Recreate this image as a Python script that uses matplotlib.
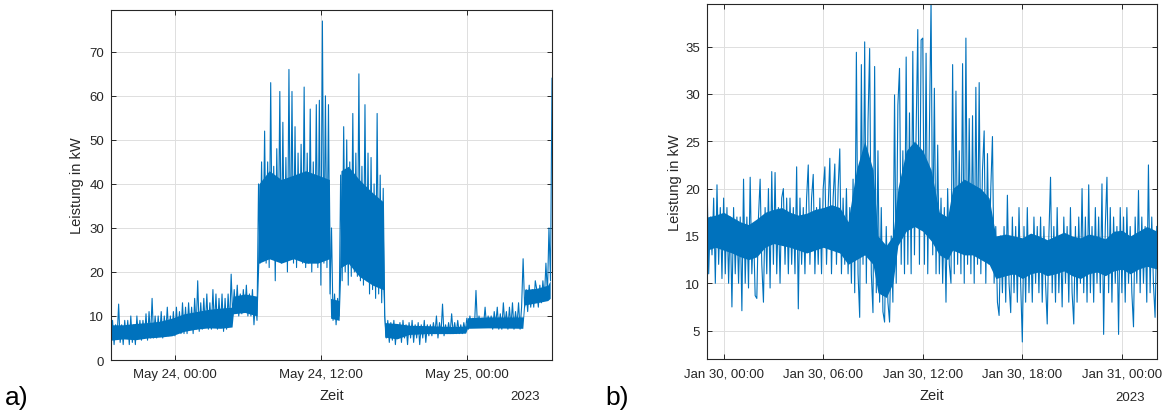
import numpy as np
import matplotlib
matplotlib.use("Agg")
import matplotlib.pyplot as plt
import matplotlib.dates as mdates

plt.rcParams['font.family'] = ['Liberation Sans', 'DejaVu Sans']

# a) May 2023, one reading every 7.5 min from 23.05. 18:45
start_a = np.datetime64('2023-05-23T18:45')
step_a = np.timedelta64(450, 's')
load_a = [
    4, 9, 3.5, 8, 5, 12.7, 4, 8, 3.5, 9,
    5, 9, 3.5, 10, 4, 8, 3.5, 10, 5, 9,
    4.5, 9, 5, 10.5, 4.5, 11, 5, 14, 5, 10,
    5, 10, 5.5, 11, 5, 10, 6, 12, 5.5, 10,
    6, 11, 5.5, 12, 6.5, 11, 6, 13, 6, 12,
    6, 13, 7, 12, 6, 14, 7, 18, 6.5, 13,
    7, 14, 7.5, 15, 7, 13, 7, 16, 7.5, 15,
    7, 14, 7.5, 15, 6.5, 14, 7, 15, 8, 19.5,
    10, 16, 11, 17, 10, 15, 10.5, 16, 11, 17,
    10, 15, 10, 16, 8, 14, 9, 40, 22, 45,
    24, 52, 22, 45, 21, 63, 23, 44, 18, 48,
    25, 61, 22, 54, 23, 46, 20, 66, 24, 61,
    22, 53, 21, 47, 24, 49, 22, 62, 21, 47,
    22, 57, 20, 45, 23, 58, 21, 59, 17, 77,
    22, 60, 21, 58, 15, 30, 9, 15, 8, 14,
    10, 42, 18, 53, 20, 50, 17, 45, 19, 56,
    20, 47, 19, 65, 18, 44, 17, 58, 18, 47,
    15, 46, 16, 40, 14, 56, 15, 42, 13, 39,
    10, 5, 9, 4, 8.5, 4.5, 9, 3.5, 8, 5,
    8.5, 4, 9, 5, 8, 3.5, 8.5, 5, 9, 4,
    8, 5, 8.5, 3.5, 8, 5, 9, 4, 8, 5.5,
    8, 5.5, 8.5, 6, 10, 5, 8.5, 6, 12.7, 5.5,
    8, 6, 8.5, 6, 10.5, 6, 8.5, 6, 9, 6,
    8, 6, 8.5, 6.5, 9.5, 7, 10, 7.5, 9.5, 7.5,
    15.8, 7.5, 10, 7.5, 9.5, 8, 12, 7.5, 10, 8,
    10, 7, 11, 8, 12, 7, 10.5, 7, 13, 8,
    11, 7, 12, 7.5, 13, 7, 11, 8, 13, 7,
    12, 23, 12, 16, 11, 17, 12, 16, 12, 18,
    16, 12, 17, 13, 18, 14, 22, 15, 30, 18,
    64,
]
# densest (solid) part of the band: hours after start, lower and upper edge
core_h_a = [0, 1, 2, 3, 4, 5, 6, 7, 8, 9, 9.95, 10.05, 11, 12.0, 12.15, 13,
            14, 15, 16, 17, 17.95, 18.05, 18.75, 18.9, 19.5, 20.4, 21.5,
            22.35, 22.5, 23.5, 24.5, 26, 28, 29.15, 29.3, 31, 33.85, 34.0,
            35, 35.9, 36.1]
core_lo_a = [4.5, 4.8, 4.6, 5, 5.2, 5.5, 6.5, 7, 7.3, 7.2, 7.5, 10.5, 10.8,
             10, 22, 23, 22, 23, 22, 22, 23, 9.5, 9, 21, 22, 19, 17, 16, 5.2,
             4.8, 5.8, 6, 6, 6.1, 7.2, 7.3, 7.2, 12.5, 13, 13.5, 14]
core_hi_a = [8, 8, 8.3, 8.5, 8.8, 9.5, 10.5, 11, 11.5, 11.8, 12, 14.5, 15,
             14.5, 40, 43, 41, 42, 43, 42, 41, 14, 13.5, 43, 44, 41, 38, 36,
             8.5, 8.3, 7.9, 7.8, 7.6, 7.7, 9.6, 9.8, 9.8, 16, 16.3, 17, 18]
ticks_a = ['2023-05-24T00:00', '2023-05-24T12:00', '2023-05-25T00:00']

# b) January 2023, one reading every 6 min from 29.01. 23:00
start_b = np.datetime64('2023-01-29T23:00')
step_b = np.timedelta64(360, 's')
load_b = [
    21, 11, 17, 13, 19, 10, 20.4, 12, 18, 10.5,
    19, 11, 18, 10, 17, 7.5, 18, 11, 17, 10,
    17, 7.1, 21, 10, 17, 9.5, 21.2, 11, 16, 8.7,
    8.4, 17, 21, 12, 8, 18, 11, 20, 9.5, 21.8,
    12, 21.7, 11, 18, 10, 19, 20, 12, 19, 11,
    19, 12, 18, 11, 22.3, 7.3, 19, 12, 18, 11,
    19, 22.5, 12, 19, 21.5, 11, 18, 12, 19, 11,
    20, 22.3, 12, 18, 23.2, 11, 19, 22.6, 12, 20,
    24.2, 11, 19, 12, 20, 11, 18, 10, 21, 9,
    34.4, 11, 6.4, 33.1, 12, 35.5, 10, 27, 34.8, 11,
    6.9, 32.9, 9, 24, 8, 18, 7, 5.9, 16, 8,
    5.9, 15, 8, 29.9, 10, 28.8, 32.7, 12, 24, 11,
    33.9, 12, 28, 11, 34.5, 13, 26, 36.8, 12, 35.7,
    35.9, 12, 34.3, 11, 26, 39.8, 13, 30.6, 11, 24.6,
    11, 19, 10, 18, 8, 20, 12, 10, 33.1, 11,
    30.3, 12, 24, 11, 33.2, 10, 35.9, 12, 27.4, 11,
    27.7, 10, 30.7, 12, 31.2, 11, 22, 26.1, 10, 23.7,
    12, 20, 25.5, 10, 16, 8, 6.6, 15, 9, 16,
    8, 19.3, 10, 6.9, 17, 9, 16, 8, 18, 10,
    3.8, 16, 8, 18, 9, 15, 8, 17, 10, 16,
    9, 17, 8, 16, 10, 5.7, 15, 21.2, 9, 16,
    8, 18, 9, 15, 7.5, 17, 10, 16, 8, 18,
    9, 5.7, 16, 8, 17, 10, 20, 9, 17, 8,
    20.4, 9, 16, 8, 18, 10, 17, 9, 20.5, 4.6,
    16, 21.2, 9, 18, 8, 17, 10, 16, 4.6, 18,
    9, 17, 8, 18, 10, 16, 9, 5.4, 17, 10,
    19.8, 9, 17, 10, 16, 8, 22.5, 9, 17, 10,
    6.4, 16,
]
core_h_b = [0, 0.5, 1, 1.5, 2, 2.5, 3, 3.5, 4, 4.5, 5, 5.5, 6, 6.5, 7, 7.5,
            8, 8.5, 9, 9.5, 10, 10.3, 10.8, 11.2, 11.5, 12, 12.5, 13, 13.5,
            14, 14.5, 14.8, 15.5, 16, 16.5, 17, 17.4, 18, 18.5, 19, 19.5, 20,
            20.5, 21, 21.5, 22, 22.5, 23, 23.5, 24, 24.5, 25, 25.5, 26, 26.5,
            27.12]
core_lo_b = [13.5, 13.8, 13.5, 13.2, 12.8, 12.5, 12.8, 13.8, 14.2, 14, 13.8,
             13.5, 13.2, 13.5, 13.8, 13.5, 13.2, 12, 12.5, 13, 12, 9, 8.5, 10,
             14, 15.5, 16, 15.5, 14.5, 13, 12.5, 13.5, 13, 13, 12.5, 12, 10.5,
             10.8, 11, 10.5, 11, 11.2, 10.8, 11, 11.3, 10.8, 10.5, 11, 11.2,
             10.8, 11.3, 11.5, 11, 11.5, 11.8, 11.5]
core_hi_b = [17, 17.2, 17.5, 17, 16.5, 16.2, 16.8, 17.5, 17.8, 18, 17.5,
             17.2, 17.4, 17.8, 18, 18.3, 18, 16.5, 22, 25, 22, 15, 14, 15, 20,
             24, 25, 24, 22, 17.5, 17, 20, 21, 20.5, 20, 19, 15, 15.2, 15,
             14.8, 15.3, 15, 14.6, 15, 15.4, 15, 14.8, 15.2, 15, 14.7, 15.5,
             15.6, 15, 15.5, 16, 15.5]
ticks_b = ['2023-01-30T00:00', '2023-01-30T06:00', '2023-01-30T12:00',
           '2023-01-30T18:00', '2023-01-31T00:00']

blue = '#0072BD'
dark = '#262626'

fig = plt.figure(figsize=(11.7, 4.14), dpi=100)
ax1 = fig.add_axes([0.0949, 0.128, 0.3769, 0.8454])
ax2 = fig.add_axes([0.6043, 0.1304, 0.3846, 0.8575])


def style(ax, t, y, core, xlim, ylim, yticks, xticks, ylabel_x):
    ct, clo, chi = core
    ax.fill_between(ct, clo, chi, color=blue, lw=0)
    ax.plot(t, y, color=blue, lw=0.8)
    ax.set_xlim(np.datetime64(xlim[0]), np.datetime64(xlim[1]))
    ax.set_ylim(*ylim)
    ax.set_yticks(yticks)
    ax.set_xticks([np.datetime64(s) for s in xticks])
    ax.xaxis.set_major_formatter(mdates.DateFormatter('%b %d, %H:%M'))
    ax.grid(True, color='#dedede', lw=0.7)
    ax.set_axisbelow(True)
    ax.tick_params(direction='in', top=True, right=True, length=3.5,
                   width=0.7, color=dark, labelcolor=dark, labelsize=9.5)
    ax.tick_params(axis='x', pad=6)
    ax.tick_params(axis='y', pad=5)
    for s in ax.spines.values():
        s.set_color(dark)
        s.set_linewidth(0.8)
    ax.set_ylabel('Leistung in kW', fontsize=10.5, color=dark, va='center')
    ax.yaxis.set_label_coords(ylabel_x, 0.5)
    ax.set_xlabel('Zeit', fontsize=10.5, color=dark, va='center')
    ax.xaxis.set_label_coords(0.5, -0.1)


t_a = start_a + np.arange(len(load_a)) * step_a
t_b = start_b + np.arange(len(load_b)) * step_b
hour = np.timedelta64(3600, 's')
c_a = (start_a + np.array(core_h_a) * hour, core_lo_a, core_hi_a)
c_b = (start_b + np.array(core_h_b) * hour, core_lo_b, core_hi_b)

style(ax1, t_a, load_a, c_a, ('2023-05-23T18:45', '2023-05-25T07:00'),
      (0, 79.5), range(0, 71, 10), ticks_a, -0.077)
style(ax2, t_b, load_b, c_b, ('2023-01-29T23:00', '2023-01-31T02:07'),
      (2, 39.5), range(5, 36, 5), ticks_b, -0.071)

fig.text(540 / 1170, 1 - 397 / 414, '2023', ha='right', va='center',
         fontsize=9.5, color=dark)
fig.text(1145 / 1170, 1 - 398 / 414, '2023', ha='right', va='center',
         fontsize=9.5, color=dark)
fig.text(0.004, 0.01, 'a)', fontsize=19, ha='left', va='bottom')
fig.text(0.517, 0.01, 'b)', fontsize=19, ha='left', va='bottom')

fig.savefig('out.png', dpi=100)
